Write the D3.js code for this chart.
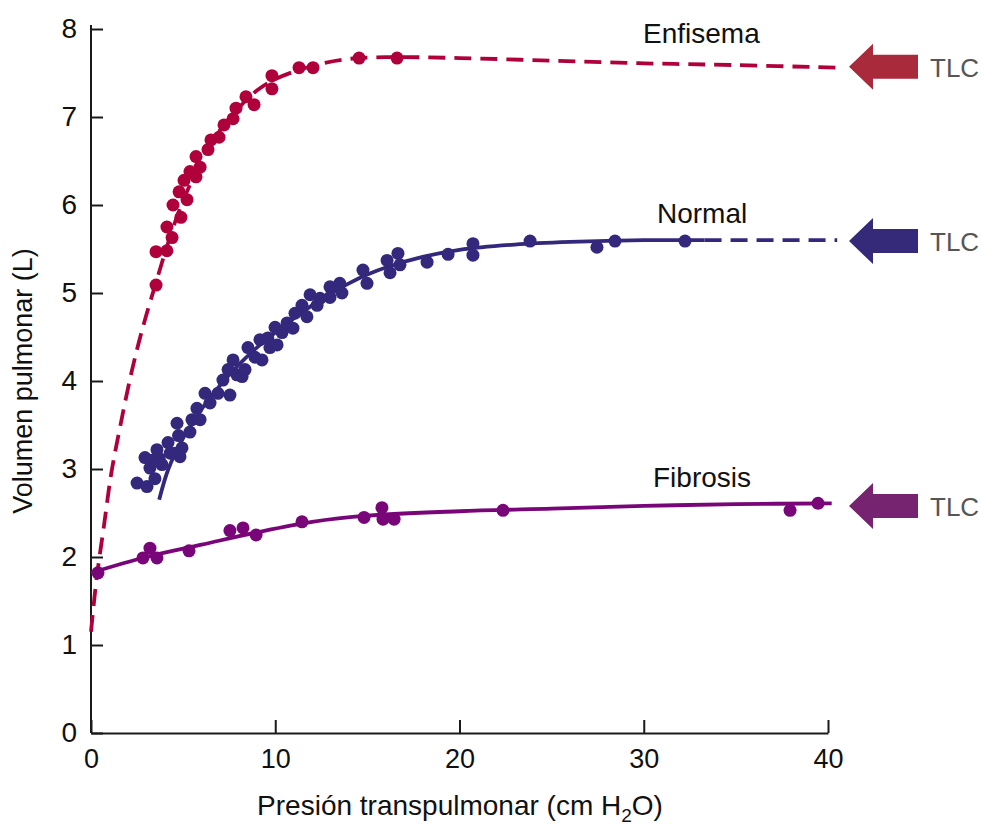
<!DOCTYPE html>
<html><head><meta charset="utf-8">
<script src="https://cdn.jsdelivr.net/npm/d3@7"></script>
<style>body{margin:0;background:#fff}svg{display:block;font-family:"Liberation Sans",Arial,sans-serif}</style>
</head><body><svg id="c" width="982" height="825"></svg>
<script>
// ---- data ----
const xTicks = [0, 10, 20, 30, 40];
const yTicks = [0, 1, 2, 3, 4, 5, 6, 7, 8];
const seriesNames = ["Enfisema", "Normal", "Fibrosis"];
const tlcValues = [7.57, 5.59, 2.58];

const enfisemaPts = [[3.53,5.09],[3.53,5.47],[4.12,5.48],[4.40,5.63],[4.12,5.75],[4.88,5.86],[4.45,6.00],[5.21,6.06],[4.78,6.15],[5.05,6.28],[5.37,6.38],[5.70,6.32],[5.92,6.43],[5.70,6.55],[6.35,6.63],[6.51,6.74],[6.95,6.77],[7.22,6.91],[7.71,6.98],[7.87,7.10],[8.41,7.23],[8.85,7.14],[9.82,7.32],[9.82,7.47],[11.29,7.56],[12.05,7.56],[14.55,7.67],[16.61,7.67]];
const enfisemaCurve = [[0,1.15],[0.3,1.75],[0.7,2.35],[1.1,2.95],[1.6,3.5],[2.2,4.1],[2.8,4.6],[3.5,5.1],[4.2,5.58],[5,6.05],[6,6.5],[7,6.85],[8,7.1],[9,7.3],[10,7.43],[12,7.58],[14,7.66],[16,7.68],[20,7.67],[25,7.64],[30,7.61],[35,7.59],[40.5,7.56]];

const normalPts = [[2.50,2.84],[3.04,2.80],[3.47,2.89],[2.93,3.13],[3.20,3.01],[3.30,3.10],[3.58,3.22],[3.70,3.12],[3.85,3.05],[4.18,3.30],[4.30,3.18],[4.56,3.18],[4.83,3.14],[4.94,3.24],[4.67,3.52],[4.75,3.38],[5.37,3.42],[5.48,3.56],[5.92,3.56],[5.75,3.69],[6.19,3.86],[6.46,3.75],[6.89,3.86],[7.16,4.01],[7.54,3.84],[7.44,4.13],[7.71,4.24],[7.92,4.07],[8.20,4.05],[8.36,4.13],[8.52,4.38],[8.90,4.27],[9.17,4.47],[9.28,4.24],[9.71,4.38],[9.60,4.49],[10.10,4.41],[9.99,4.61],[10.37,4.55],[10.64,4.66],[10.96,4.60],[11.07,4.77],[11.45,4.86],[11.72,4.73],[11.89,4.98],[12.27,4.86],[12.43,4.94],[12.97,5.07],[12.97,4.95],[13.50,5.11],[13.62,5.00],[14.76,5.26],[14.98,5.11],[16.07,5.37],[16.23,5.23],[16.66,5.45],[16.77,5.32],[18.24,5.35],[19.38,5.44],[20.73,5.56],[20.73,5.43],[23.83,5.59],[27.46,5.52],[28.44,5.59],[32.24,5.59]];
const normalCurve = [[3.7,2.65],[4.2,3.0],[5,3.35],[6,3.68],[7,3.95],[8,4.18],[9,4.38],[10,4.55],[11,4.71],[12,4.86],[13,4.99],[14,5.11],[15,5.21],[16,5.29],[18,5.41],[20,5.49],[23,5.55],[26,5.58],[30,5.6],[33.3,5.6]];
const normalDash = [[33.3,5.6],[40.5,5.6]];

const fibrosisPts = [[0.38,1.82],[2.82,1.99],[3.20,2.10],[3.58,1.99],[5.32,2.07],[7.54,2.30],[8.25,2.33],[8.96,2.25],[11.45,2.40],[14.82,2.45],[15.79,2.56],[15.85,2.43],[16.45,2.43],[22.36,2.53],[37.94,2.53],[39.46,2.61]];
const fibrosisCurve = [[0,1.82],[3,2.0],[6,2.14],[9,2.28],[12,2.4],[15,2.47],[20,2.52],[25,2.55],[30,2.58],[35,2.6],[40.2,2.61]];

// ---- styles ----
const colors = {Enfisema:"#b0003b", Normal:"#33287b", Fibrosis:"#790679"};
const arrowColors = ["#a92a3a", "#35297a", "#76246f"];

const svg = d3.select("#c");
const x = d3.scaleLinear().domain([0,40]).range([91,828]);
const y = d3.scaleLinear().domain([0,8]).range([733,29]);

// axes
const gy = svg.append("g").attr("transform","translate(91,0)")
  .call(d3.axisLeft(y).tickValues(yTicks).tickSizeInner(-12).tickSizeOuter(0).tickPadding(14));
gy.select(".domain").attr("d","M0,733V25").attr("stroke","#1a1a1a").attr("stroke-width",2);
gy.selectAll(".tick line").attr("stroke","#1a1a1a").attr("stroke-width",2);
gy.selectAll(".tick text").attr("font-size",28).attr("fill","#111").attr("font-family","Liberation Sans, Arial, sans-serif");

const gx = svg.append("g").attr("transform","translate(0,733)")
  .call(d3.axisBottom(x).tickValues(xTicks).tickSizeInner(-13).tickSizeOuter(0).tickPadding(16));
gx.select(".domain").attr("stroke","#1a1a1a").attr("stroke-width",2);
gx.selectAll(".tick line").attr("stroke","#1a1a1a").attr("stroke-width",2);
gx.selectAll(".tick text").attr("font-size",27).attr("fill","#111").attr("font-family","Liberation Sans, Arial, sans-serif");

// axis titles
const xt = svg.append("text").attr("x",460).attr("y",815).attr("text-anchor","middle")
  .attr("font-size",28).attr("fill","#111");
xt.append("tspan").text("Presión transpulmonar (cm H");
xt.append("tspan").text("2").attr("font-size",19).attr("dy",7);
xt.append("tspan").text("O)").attr("dy",-7);

svg.append("text").attr("transform","translate(32,381) rotate(-90)").attr("text-anchor","middle")
  .attr("font-size",27).attr("fill","#111").text("Volumen pulmonar (L)");

const line = d3.line().x(d=>x(d[0])).y(d=>y(d[1])).curve(d3.curveMonotoneX);
const lineC = d3.line().x(d=>x(d[0])).y(d=>y(d[1])).curve(d3.curveCatmullRom.alpha(0.5));

function drawLine(data, color, dashed, gen){
  svg.append("path").attr("d",(gen||line)(data)).attr("fill","none").attr("stroke",color)
    .attr("stroke-width",3.8).attr("stroke-dasharray",dashed?"17,9":null);
}
function drawPts(data, color){
  svg.append("g").selectAll("circle").data(data).join("circle")
    .attr("cx",d=>x(d[0])).attr("cy",d=>y(d[1])).attr("r",6.5).attr("fill",color);
}

drawLine(enfisemaCurve, colors.Enfisema, true, lineC);
drawPts(enfisemaPts, colors.Enfisema);
drawLine(normalCurve, colors.Normal, false, lineC);
drawLine(normalDash, colors.Normal, true);
drawPts(normalPts, colors.Normal);
drawLine(fibrosisCurve, colors.Fibrosis, false, lineC);
drawPts(fibrosisPts, colors.Fibrosis);

// series labels
const labelPos = [[643,43],[657,223],[653,487]];
seriesNames.forEach((n,i)=>{
  svg.append("text").attr("x",labelPos[i][0]).attr("y",labelPos[i][1]).attr("font-size",28)
    .attr("fill","#111").text(n);
});

// TLC arrows
tlcValues.forEach((v,i)=>{
  const cy = y(v), tip = 849;
  const pts = [[tip,cy],[tip+24,cy-23],[tip+24,cy-12],[tip+69,cy-12],[tip+69,cy+12],[tip+24,cy+12],[tip+24,cy+23]];
  svg.append("path").attr("d","M"+pts.map(p=>p.join(",")).join("L")+"Z").attr("fill",arrowColors[i]);
  svg.append("text").attr("x",930).attr("y",cy+10).attr("font-size",26).attr("fill","#555").text("TLC");
});
</script></body></html>
